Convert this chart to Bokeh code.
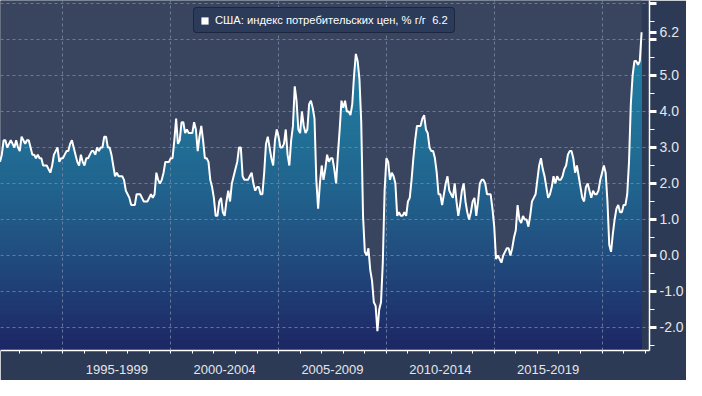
import numpy as np
from bokeh.plotting import figure
from bokeh.models import (FixedTicker, Legend, LegendItem, LinearAxis,
                          NumeralTickFormatter)
from bokeh.embed import file_html
from bokeh.resources import INLINE

# ---- data: US CPI, % y/y, monthly (Jan 1992 .. Oct 2021) ----
first_year = 1992
cpi_1992_1994 = [2.6, 2.8, 3.2, 3.2, 3.0, 3.1, 3.2, 3.1, 3.0, 3.2, 3.0, 2.9,
                 3.3, 3.2, 3.1, 3.2, 3.2, 3.0, 2.8, 2.8, 2.7, 2.8, 2.7, 2.7,
                 2.5, 2.5, 2.5, 2.4, 2.3, 2.5, 2.8, 2.9, 3.0, 2.6, 2.7, 2.7]
cpi_1995_1999 = [2.8, 2.9, 2.9, 3.1, 3.2, 3.0, 2.8, 2.6, 2.5, 2.8, 2.6, 2.5,
                 2.7, 2.7, 2.8, 2.9, 2.9, 2.8, 3.0, 2.9, 3.0, 3.0, 3.3, 3.3,
                 3.0, 3.0, 2.8, 2.5, 2.2, 2.3, 2.2, 2.2, 2.2, 2.1, 1.8, 1.7,
                 1.6, 1.4, 1.4, 1.4, 1.7, 1.7, 1.7, 1.6, 1.5, 1.5, 1.5, 1.6,
                 1.7, 1.6, 1.7, 2.3, 2.1, 2.0, 2.1, 2.3, 2.6, 2.6, 2.6, 2.7]
cpi_2000_2004 = [2.7, 3.2, 3.8, 3.1, 3.2, 3.7, 3.7, 3.4, 3.5, 3.4, 3.4, 3.4,
                 3.7, 3.5, 2.9, 3.3, 3.6, 3.2, 2.7, 2.7, 2.6, 2.1, 1.9, 1.6,
                 1.1, 1.1, 1.5, 1.6, 1.2, 1.1, 1.5, 1.8, 1.5, 2.0, 2.2, 2.4,
                 2.6, 3.0, 3.0, 2.2, 2.1, 2.1, 2.1, 2.2, 2.3, 2.0, 1.8, 1.9,
                 1.9, 1.7, 1.7, 2.3, 3.1, 3.3, 3.0, 2.7, 2.5, 3.2, 3.5, 3.3]
cpi_2005_2009 = [3.0, 3.0, 3.1, 3.5, 2.8, 2.5, 3.2, 3.6, 4.7, 4.3, 3.5, 3.4,
                 4.0, 3.6, 3.4, 3.5, 4.2, 4.3, 4.1, 3.8, 2.1, 1.3, 2.0, 2.5,
                 2.1, 2.4, 2.8, 2.6, 2.7, 2.7, 2.4, 2.0, 2.8, 3.5, 4.3, 4.1,
                 4.3, 4.0, 4.0, 3.9, 4.2, 5.0, 5.6, 5.4, 4.9, 3.7, 1.1, 0.1,
                 0.0, 0.2, -0.4, -0.7, -1.3, -1.4, -2.1, -1.5, -1.3, -0.2, 1.8, 2.7]
cpi_2010_2014 = [2.6, 2.1, 2.3, 2.2, 2.0, 1.1, 1.2, 1.1, 1.1, 1.2, 1.1, 1.5,
                 1.6, 2.1, 2.7, 3.2, 3.6, 3.6, 3.6, 3.8, 3.9, 3.5, 3.4, 3.0,
                 2.9, 2.9, 2.7, 2.3, 1.7, 1.7, 1.4, 1.7, 2.0, 2.2, 1.8, 1.7,
                 1.6, 2.0, 1.5, 1.1, 1.4, 1.8, 2.0, 1.5, 1.2, 1.0, 1.2, 1.5,
                 1.6, 1.1, 1.5, 2.0, 2.1, 2.1, 2.0, 1.7, 1.7, 1.7, 1.3, 0.8]
cpi_2015_2019 = [-0.1, 0.0, -0.1, -0.2, 0.0, 0.1, 0.2, 0.2, 0.0, 0.2, 0.5, 0.7,
                 1.4, 1.0, 0.9, 1.1, 1.0, 1.0, 0.8, 1.1, 1.5, 1.6, 1.7, 2.1,
                 2.5, 2.7, 2.4, 2.2, 1.9, 1.6, 1.7, 1.9, 2.2, 2.0, 2.2, 2.1,
                 2.1, 2.2, 2.4, 2.5, 2.8, 2.9, 2.9, 2.7, 2.3, 2.5, 2.2, 1.9,
                 1.6, 1.5, 1.9, 2.0, 1.8, 1.6, 1.8, 1.7, 1.7, 1.8, 2.1, 2.3]
cpi_2020_2021 = [2.5, 2.3, 1.5, 0.3, 0.1, 0.6, 1.0, 1.3, 1.4, 1.2, 1.2, 1.4,
                 1.4, 1.7, 2.6, 4.2, 5.0, 5.4, 5.4, 5.3, 5.4, 6.2]

period_labels = ["1995-1999", "2000-2004", "2005-2009", "2010-2014", "2015-2019"]
period_bounds = [1995, 2000, 2005, 2010, 2015, 2020]
year_ticks = list(range(1993, 2023))
y_ticks = [-2, -1, 0, 1, 2, 3, 4, 5, 6, 7]
y_minor = [v / 2 for v in range(-6, 15)]
legend_text = "США: индекс потребительских цен, % г/г"

cpi = np.array(cpi_1992_1994 + cpi_1995_1999 + cpi_2000_2004 + cpi_2005_2009 +
               cpi_2010_2014 + cpi_2015_2019 + cpi_2020_2021, dtype=float)
x = first_year + (np.arange(len(cpi)) + 1) / 12.0
last = float(cpi[-1])

# ---- style / geometry ----
OUTER = "#2d3a55"
PLOT_BG = "#39445f"
W, H = 686, 380
FR_W, FR_H = 652, 350
xlo, xhi = 1992.106, 2022.20
ylo, yhi = -2.64, 7.083

p = figure(width=W, height=H, x_range=(xlo, xhi), y_range=(ylo, yhi),
           output_backend="svg", toolbar_location=None, y_axis_location="right",
           min_border_left=0, min_border_top=0, min_border_right=W - FR_W,
           min_border_bottom=H - FR_H,
           background_fill_color=OUTER, border_fill_color=OUTER,
           outline_line_color=None)

# lighter background over the data span
p.varea(x=x, y1=np.full_like(cpi, ylo), y2=np.full_like(cpi, yhi),
        fill_color=PLOT_BG, level="underlay")

# vertical gradient fill under the curve (layered bands)
stops_v = [ylo, 0.0, 2.0, 5.0, yhi]
stops_c = [(29, 37, 100), (33, 76, 126), (34, 101, 143), (32, 124, 159), (36, 138, 170)]
N = 70
for k in range(N):
    t = yhi - k * (yhi - ylo) / N
    if t > cpi.max() + 0.3 and k > 0:
        continue
    r = int(np.interp(t, stops_v, [c[0] for c in stops_c]))
    g = int(np.interp(t, stops_v, [c[1] for c in stops_c]))
    b = int(np.interp(t, stops_v, [c[2] for c in stops_c]))
    p.varea(x=x, y1=np.full_like(cpi, ylo), y2=np.minimum(cpi, t),
            fill_color="#%02x%02x%02x" % (r, g, b), level="underlay")

# zero-height area used only as the white square legend marker
marker_r = p.varea(x=x, y1=cpi, y2=cpi, fill_color="white", level="underlay")

p.line(x, cpi, line_color="white", line_width=2, level="overlay")

# grids
p.xgrid.ticker = FixedTicker(ticks=period_bounds)
p.ygrid.ticker = FixedTicker(ticks=y_ticks)
for gr in (p.xgrid[0], p.ygrid[0]):
    gr.grid_line_color = "#7888a8"
    gr.grid_line_alpha = 0.8
    gr.grid_line_dash = "3 3"
    gr.grid_line_width = 1
    gr.level = "glyph"

# bottom axis: period labels + yearly ticks
xa = p.xaxis[0]
mids = [(a + b) / 2 for a, b in zip(period_bounds[:-1], period_bounds[1:])]
xa.ticker = FixedTicker(ticks=mids, minor_ticks=year_ticks)
xa.major_label_overrides = {m: lab for m, lab in zip(mids, period_labels)}
xa.major_tick_out = 0
xa.major_tick_in = 0
xa.major_tick_line_color = None
xa.minor_tick_out = 3
xa.minor_tick_in = 0
xa.minor_tick_line_color = "white"
xa.axis_line_color = "white"
xa.axis_line_width = 1.5
xa.major_label_standoff = 11
xa.major_label_text_color = "#e4e6ea"
xa.major_label_text_font = "Liberation Sans"
xa.major_label_text_font_size = "13px"

# period separators: second axis pinned to the frame bottom
sep = LinearAxis(ticker=FixedTicker(ticks=period_bounds), fixed_location=ylo,
                 axis_line_color=None, major_tick_out=40, major_tick_in=0,
                 major_tick_line_color="#959daf", major_tick_line_width=1,
                 minor_tick_line_color=None, major_label_text_font_size="0px",
                 major_label_text_color=None)
sep.major_label_overrides = {b: "" for b in period_bounds}
p.add_layout(sep, "below")

# right value axis; the last value is marked with its own tick and label
ya = p.yaxis[0]
ya.ticker = FixedTicker(ticks=y_ticks + [last], minor_ticks=y_minor)
ya.formatter = NumeralTickFormatter(format="0.0")
ya.major_label_overrides = {7: "", 6: ""}
ya.axis_line_color = "white"
ya.axis_line_width = 1.5
ya.major_tick_out = 7
ya.major_tick_in = 0
ya.major_tick_line_color = "white"
ya.major_tick_line_width = 3
ya.minor_tick_out = 5
ya.minor_tick_in = 0
ya.minor_tick_line_color = "white"
ya.major_label_standoff = 3
ya.major_label_text_color = "#e4e6ea"
ya.major_label_text_font = "Liberation Sans"
ya.major_label_text_font_size = "14px"

# legend
legend = Legend(items=[LegendItem(label=f"{legend_text}  {last:.1f}",
                                  renderers=[marker_r])],
                location=(193, FR_H - 33), orientation="horizontal",
                background_fill_color="#2c3b5a", background_fill_alpha=1,
                border_line_color="#0d1220", border_line_width=1.5,
                label_text_color="white", label_text_font="Liberation Sans",
                label_text_font_size="11.2px", glyph_width=9, glyph_height=9,
                label_standoff=6, padding=6, margin=0, spacing=0)
if "border_radius" in Legend.properties():
    legend.border_radius = 4
p.add_layout(legend)

open("out.html", "w").write(file_html(p, INLINE))
